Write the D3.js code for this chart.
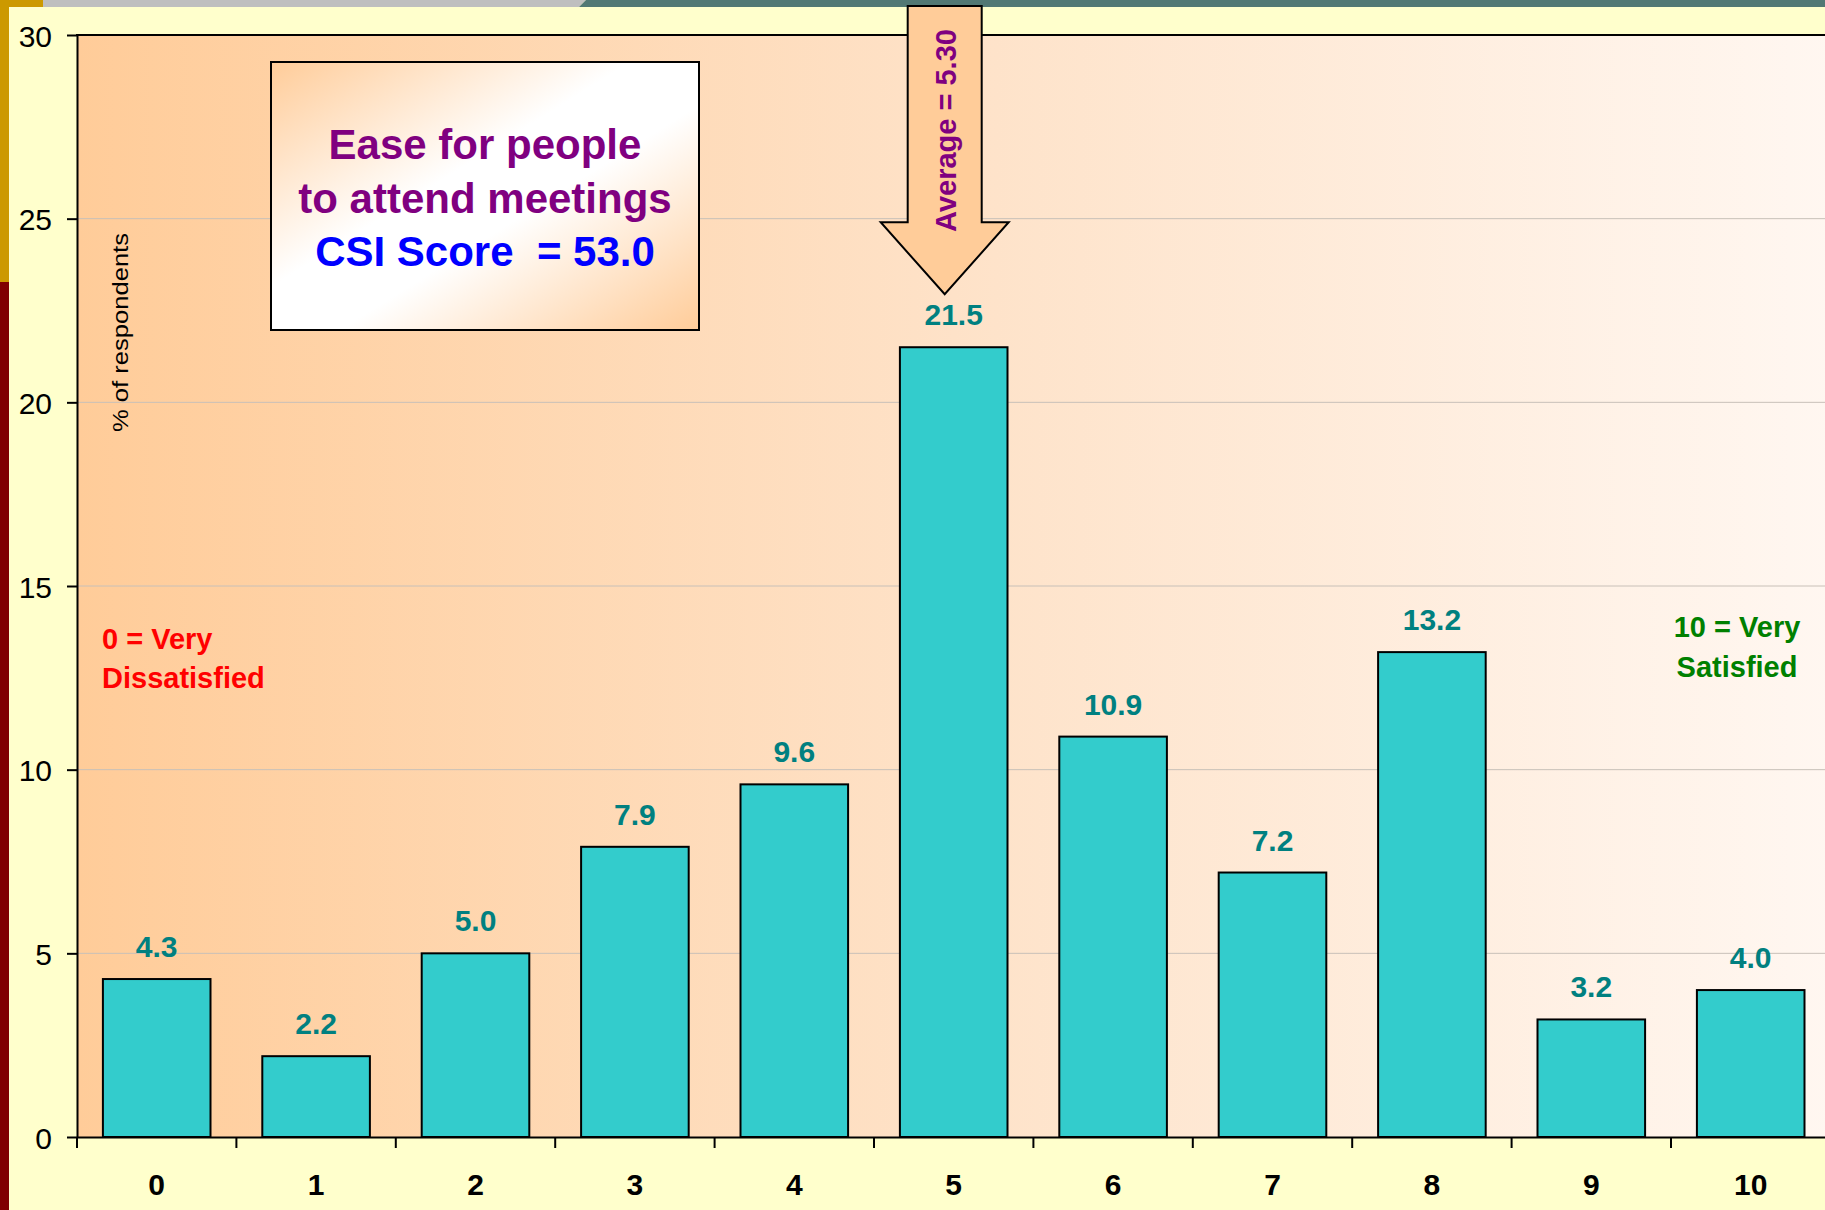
<!DOCTYPE html>
<html>
<head>
<meta charset="utf-8">
<script src="https://cdn.jsdelivr.net/npm/d3@7"></script>
<style>
  html, body { margin: 0; padding: 0; background: #FFFFCC; }
  svg { display: block; }
  text { font-family: "Liberation Sans", Arial, sans-serif; }
</style>
</head>
<body>
<script>
// ---- data ----
const categories = ["0", "1", "2", "3", "4", "5", "6", "7", "8", "9", "10"];
const values = [4.3, 2.2, 5.0, 7.9, 9.6, 21.5, 10.9, 7.2, 13.2, 3.2, 4.0];
const yTicks = [0, 5, 10, 15, 20, 25, 30];
const yAxisTitle = "% of respondents";
const titleLines = ["Ease for people", "to attend meetings", "CSI Score  = 53.0"];
const averageLabel = "Average = 5.30";
const lowLabel = ["0 = Very", "Dissatisfied"];
const highLabel = ["10 = Very", "Satisfied"];

// ---- layout ----
const W = 1825, H = 1210;
const plot = { left: 77, right: 1830.4, top: 35, bottom: 1137 };

const svg = d3.select("body").append("svg").attr("width", W).attr("height", H);
const defs = svg.append("defs");

const bgGrad = defs.append("linearGradient").attr("id", "bgGrad")
  .attr("x1", 0).attr("y1", 0).attr("x2", 1).attr("y2", 0);
bgGrad.append("stop").attr("offset", 0).attr("stop-color", "#FFCC99");
bgGrad.append("stop").attr("offset", 0.5).attr("stop-color", "#FEE2C8");
bgGrad.append("stop").attr("offset", 1).attr("stop-color", "#FFF7F1");

const boxGrad = defs.append("linearGradient").attr("id", "boxGrad")
  .attr("x1", 0).attr("y1", 0).attr("x2", 1).attr("y2", 1);
boxGrad.append("stop").attr("offset", 0).attr("stop-color", "#FFCC99");
boxGrad.append("stop").attr("offset", 0.42).attr("stop-color", "#FFFFFF");
boxGrad.append("stop").attr("offset", 0.58).attr("stop-color", "#FFFFFF");
boxGrad.append("stop").attr("offset", 1).attr("stop-color", "#FFCC99");

// background
svg.append("rect").attr("width", W).attr("height", H).attr("fill", "#FFFFCC");

// scales
const x = d3.scaleBand().domain(categories).range([plot.left, plot.right])
  .paddingInner(0.325).paddingOuter(0.1625);
const y = d3.scaleLinear().domain([0, 30]).range([plot.bottom, plot.top]);

// plot area
svg.append("rect")
  .attr("x", plot.left).attr("y", plot.top)
  .attr("width", plot.right - plot.left).attr("height", plot.bottom - plot.top)
  .attr("fill", "url(#bgGrad)");

// gridlines
svg.append("g").selectAll("line").data(yTicks.filter(t => t > 0 && t < 30)).join("line")
  .attr("x1", plot.left).attr("x2", plot.right)
  .attr("y1", d => y(d)).attr("y2", d => y(d))
  .attr("stroke", "#C8C0B8").attr("stroke-width", 1);

// y axis
const yAxis = svg.append("g").attr("transform", `translate(${plot.left},0)`)
  .call(d3.axisLeft(y).tickValues(yTicks).tickSize(10).tickSizeOuter(0).tickPadding(15));
yAxis.select(".domain").attr("stroke", "#000").attr("stroke-width", 2);
yAxis.selectAll(".tick line").attr("stroke", "#000").attr("stroke-width", 2);
yAxis.selectAll(".tick text").attr("font-size", 30).attr("fill", "#000")
  .attr("font-family", "Liberation Sans, Arial, sans-serif").attr("dy", "0.37em");

// top frame
svg.append("line").attr("x1", plot.left - 1).attr("x2", W)
  .attr("y1", plot.top).attr("y2", plot.top).attr("stroke", "#000").attr("stroke-width", 2);

// bars
svg.append("g").selectAll("rect").data(values).join("rect")
  .attr("x", (d, i) => x(categories[i]))
  .attr("y", d => y(d))
  .attr("width", x.bandwidth())
  .attr("height", d => y(0) - y(d))
  .attr("fill", "#33CCCC").attr("stroke", "#000").attr("stroke-width", 2);

// value labels
svg.append("g").selectAll("text").data(values).join("text")
  .attr("x", (d, i) => x(categories[i]) + x.bandwidth() / 2)
  .attr("y", d => y(d) - 22)
  .attr("text-anchor", "middle")
  .attr("font-size", 30).attr("font-weight", "bold").attr("fill", "#008080")
  .text(d => d.toFixed(1));

// x axis
const step = x.step();
const half = x.paddingInner() * step / 2;
const xAxis = svg.append("g").attr("transform", `translate(0,${plot.bottom})`)
  .call(d3.axisBottom(x).tickSize(0).tickSizeOuter(0).tickPadding(37));
xAxis.select(".domain").attr("stroke", "#000").attr("stroke-width", 2);
xAxis.selectAll(".tick text").attr("font-size", 30).attr("font-weight", "bold")
  .attr("fill", "#000").attr("font-family", "Liberation Sans, Arial, sans-serif");
svg.append("g").selectAll("line").data(categories).join("line")
  .attr("x1", d => x(d) - half).attr("x2", d => x(d) - half)
  .attr("y1", plot.bottom).attr("y2", plot.bottom + 11)
  .attr("stroke", "#000").attr("stroke-width", 2);

// y axis title
svg.append("text")
  .attr("transform", "translate(127.5,332.5) rotate(-90)")
  .attr("text-anchor", "middle").attr("font-size", 22).attr("fill", "#000")
  .attr("textLength", 199).attr("lengthAdjust", "spacingAndGlyphs")
  .text(yAxisTitle);

// low / high labels
svg.append("text").attr("x", 102).attr("y", 649)
  .attr("font-size", 29).attr("font-weight", "bold").attr("fill", "#FF0000")
  .selectAll("tspan").data(lowLabel).join("tspan")
  .attr("x", 102).attr("dy", (d, i) => i ? 39 : 0).text(d => d);
svg.append("text").attr("x", 1737).attr("y", 637)
  .attr("text-anchor", "middle")
  .attr("font-size", 29).attr("font-weight", "bold").attr("fill", "#008000")
  .selectAll("tspan").data(highLabel).join("tspan")
  .attr("x", 1737).attr("dy", (d, i) => i ? 40 : 0).text(d => d);

// title box
const box = { x: 271, y: 62, w: 428, h: 268 };
svg.append("rect").attr("x", box.x).attr("y", box.y).attr("width", box.w).attr("height", box.h)
  .attr("fill", "url(#boxGrad)").attr("stroke", "#000").attr("stroke-width", 2);
svg.append("text").attr("text-anchor", "middle").attr("font-size", 42).attr("font-weight", "bold")
  .attr("xml:space", "preserve").style("white-space", "pre")
  .selectAll("tspan").data(titleLines).join("tspan")
  .attr("x", box.x + box.w / 2)
  .attr("y", (d, i) => 159 + i * 53.7)
  .attr("fill", (d, i) => i === 2 ? "#0000FF" : "#800080")
  .text(d => d);

// frame strips
svg.append("rect").attr("x", 0).attr("y", 0).attr("width", 9).attr("height", 282).attr("fill", "#CC9900");
svg.append("rect").attr("x", 0).attr("y", 282).attr("width", 9).attr("height", H - 282).attr("fill", "#800000");
svg.append("rect").attr("x", 0).attr("y", 0).attr("width", 43).attr("height", 7).attr("fill", "#CC9900");
svg.append("path").attr("d", "M43,0 L586,0 L579,7 L43,7 Z").attr("fill", "#BFBFBF");
svg.append("path").attr("d", `M586,0 L${W},0 L${W},7 L579,7 Z`).attr("fill", "#527874");

// average arrow (anchored on bar 5)
const cx = x("5") + x.bandwidth() / 2 - 9;
const tipY = y(values[5]) - 53;
const headY = tipY - 72;
const arrow = [[cx - 37, 6], [cx + 37, 6], [cx + 37, headY], [cx + 64, headY], [cx, tipY],
  [cx - 64, headY], [cx - 37, headY]];
svg.append("path").attr("d", d3.line()(arrow) + "Z")
  .attr("fill", "#FFCC99").attr("stroke", "#000").attr("stroke-width", 2).attr("stroke-linejoin", "miter");
svg.append("text")
  .attr("transform", `translate(${cx + 11},130.5) rotate(-90)`)
  .attr("text-anchor", "middle").attr("font-size", 29).attr("font-weight", "bold").attr("fill", "#800080")
  .text(averageLabel);
</script>
</body>
</html>
